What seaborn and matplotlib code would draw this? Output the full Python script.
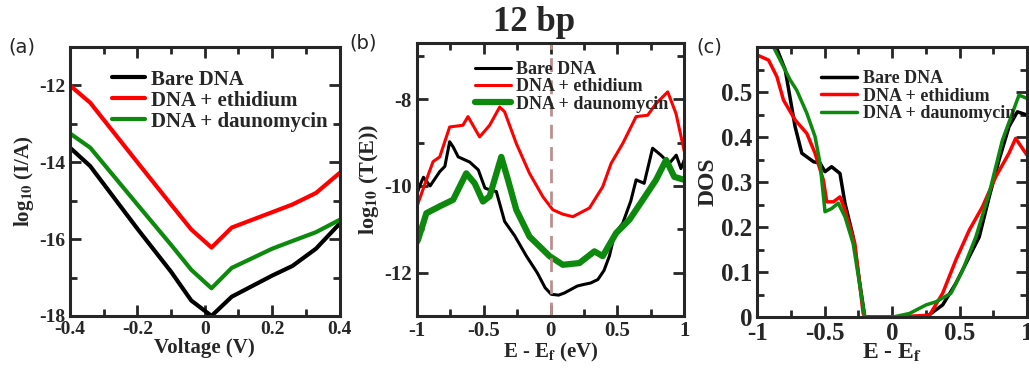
import numpy as np
import pandas as pd
import matplotlib
matplotlib.use("Agg")
import matplotlib.pyplot as plt
from matplotlib.ticker import MultipleLocator
import seaborn as sns

sns.set_style("ticks")
plt.rcParams['font.family'] = ['Liberation Serif', 'DejaVu Serif']
plt.rcParams['font.weight'] = 'bold'
plt.rcParams['mathtext.fontset'] = 'stix'
plt.rcParams['mathtext.default'] = 'bf'

names = ["Bare DNA", "DNA + ethidium", "DNA + daunomycin"]
colors = ["black", "#ff0000", "#0d8a0d"]

# (a) I-V curves
volt = [-0.4, -0.34, -0.2, -0.1, -0.04, 0.02, 0.08, 0.2, 0.26, 0.33, 0.4]
iv_bare = [-13.62, -14.1, -15.73, -16.85, -17.6, -18.0, -17.5, -16.95, -16.7, -16.25, -15.6]
iv_eth = [-12.0, -12.45, -14.0, -15.1, -15.75, -16.22, -15.7, -15.3, -15.1, -14.8, -14.28]
iv_dau = [-13.25, -13.62, -15.1, -16.15, -16.8, -17.28, -16.75, -16.25, -16.05, -15.82, -15.5]

# (b) transmission
e_bare = [-1.0, -0.978, -0.95, -0.9, -0.828, -0.79, -0.754, -0.728, -0.69, -0.604, -0.54,
          -0.49, -0.455, -0.405, -0.343, -0.268, -0.18, -0.1, -0.04, 0.005, 0.06, 0.104,
          0.2, 0.24, 0.3, 0.354, 0.4, 0.44, 0.48, 0.54, 0.6, 0.64, 0.70, 0.763, 0.825,
          0.888, 0.94, 0.975, 1.0]
t_bare = [-10.2, -10.0, -9.8, -10.0, -9.67, -9.55, -8.98, -9.1, -9.33, -9.45, -9.63,
          -10.05, -10.09, -10.13, -10.82, -11.15, -11.62, -12.0, -12.35, -12.5, -12.52, -12.47,
          -12.31, -12.28, -12.24, -12.16, -11.95, -11.62, -11.1, -10.86, -10.35, -9.86, -9.94,
          -9.13, -9.29, -9.48, -9.29, -9.6, -9.4]
e_eth = [-1.0, -0.99, -0.928, -0.878, -0.828, -0.754, -0.655, -0.617, -0.53, -0.455, -0.38,
         -0.343, -0.256, -0.157, -0.057, 0.017, 0.09, 0.167, 0.291, 0.39, 0.453, 0.54, 0.64,
         0.726, 0.789, 0.876, 0.938, 1.0]
t_eth = [-10.5, -10.4, -9.86, -9.44, -9.33, -8.64, -8.6, -8.4, -8.87, -8.6, -8.18,
         -8.29, -9.02, -9.71, -10.25, -10.55, -10.65, -10.71, -10.51, -10.02, -9.48, -9.02,
         -8.4, -8.37, -8.1, -7.83, -8.33, -9.2]
e_dau = [-1.0, -0.99, -0.928, -0.828, -0.728, -0.63, -0.567, -0.505, -0.455, -0.368, -0.318,
         -0.256, -0.157, -0.007, 0.092, 0.216, 0.328, 0.39, 0.49, 0.59, 0.69, 0.789,
         0.864, 0.925, 1.0]
t_dau = [-11.3, -11.24, -10.63, -10.47, -10.32, -9.71, -9.94, -10.36, -10.24, -9.33, -9.86,
         -10.55, -11.17, -11.62, -11.82, -11.78, -11.51, -11.62, -11.09, -10.78, -10.32, -9.86,
         -9.4, -9.79, -9.86]

# (c) DOS
d_e_bare = [-0.86, -0.793, -0.72, -0.67, -0.583, -0.535, -0.498, -0.449, -0.387, -0.35,
            -0.289, -0.24, -0.203, 0.0, 0.252, 0.375, 0.473, 0.572, 0.646, 0.72, 0.793,
            0.867, 0.929, 1.0]
dos_bare = [0.6, 0.549, 0.423, 0.364, 0.345, 0.342, 0.323, 0.334, 0.319, 0.253,
            0.178, 0.075, 0.0, 0.0, 0.0, 0.027, 0.075, 0.134, 0.178, 0.267, 0.349,
            0.423, 0.456, 0.449]
d_e_eth = [-1.0, -0.917, -0.855, -0.806, -0.72, -0.633, -0.572, -0.51, -0.485, -0.436,
           -0.387, -0.35, -0.277, -0.215, -0.2, 0.0, 0.277, 0.375, 0.473, 0.572, 0.67,
           0.769, 0.867, 0.916, 1.0]
dos_eth = [0.582, 0.571, 0.534, 0.482, 0.438, 0.408, 0.364, 0.304, 0.256, 0.256,
           0.267, 0.238, 0.164, 0.008, 0.0, 0.0, 0.004, 0.053, 0.127, 0.193, 0.245,
           0.312, 0.364, 0.397, 0.36]
d_e_dau = [-0.88, -0.757, -0.708, -0.633, -0.572, -0.535, -0.498, -0.449, -0.4, -0.35,
           -0.289, -0.203, 0.006, 0.129, 0.252, 0.326, 0.437, 0.523, 0.621, 0.72, 0.818,
           0.892, 0.941, 1.0]
dos_dau = [0.6, 0.527, 0.504, 0.453, 0.401, 0.342, 0.234, 0.241, 0.253, 0.223,
           0.163, 0.0, 0.0, 0.008, 0.027, 0.034, 0.053, 0.104, 0.178, 0.275, 0.393,
           0.453, 0.493, 0.486]

fig = plt.figure(figsize=(10.29, 3.73), dpi=100)
ax_a = fig.add_axes([0.068, 0.153, 0.262, 0.721])
ax_b = fig.add_axes([0.405, 0.153, 0.260, 0.732])
ax_c = fig.add_axes([0.736, 0.150, 0.262, 0.724])


def draw(ax, xs, ys, widths):
    for x, y, name, c, w in zip(xs, ys, names, colors, widths):
        df = pd.DataFrame({"x": x, "y": y})
        sns.lineplot(data=df, x="x", y="y", ax=ax, color=c, lw=w, label=name,
                     sort=False, estimator=None)


def style(ax, tick_size):
    for s in ax.spines.values():
        s.set_linewidth(2.2)
    ax.tick_params(which='both', direction='in', top=True, right=True, width=2,
                   labelsize=tick_size)
    ax.tick_params(which='major', length=8)
    ax.tick_params(which='minor', length=5)
    for t in ax.get_xticklabels() + ax.get_yticklabels():
        t.set_fontweight('bold')


draw(ax_a, [volt] * 3, [iv_bare, iv_eth, iv_dau], [3, 3, 3])
ax_a.set_xticks([-0.4, -0.2, 0, 0.2, 0.4])
ax_a.set_xticklabels(['-0.4', '-0.2', '0', '0.2', '0.4'])
ax_a.xaxis.set_minor_locator(MultipleLocator(0.1))
ax_a.set_yticks([-18, -16, -14, -12])
ax_a.set_yticklabels(['-18', '-16', '-14', '-12'])
ax_a.yaxis.set_minor_locator(MultipleLocator(1))
ax_a.set_xlim(-0.4, 0.4)
ax_a.set_ylim(-18, -11)
ax_a.set_xlabel("Voltage (V)", fontsize=15, fontweight='bold', labelpad=0)
ax_a.set_ylabel(r"log$_{10}$ (I/A)", fontsize=15, fontweight='bold', labelpad=2)
style(ax_a, 14)
ax_a.legend(loc='upper left', bbox_to_anchor=(0.1, 0.97), frameon=False, fontsize=15,
            handlelength=1.6, handletextpad=0.3, labelspacing=0.05, borderpad=0.2)

draw(ax_b, [e_bare, e_eth, e_dau], [t_bare, t_eth, t_dau], [2.2, 2.2, 4.5])
ax_b.axvline(0, color='#bc8f8f', ls='--', lw=2, dashes=(5, 3))
ax_b.set_xticks([-1, -0.5, 0, 0.5, 1])
ax_b.set_xticklabels(['-1', '-0.5', '0', '0.5', '1'])
ax_b.xaxis.set_minor_locator(MultipleLocator(0.25))
ax_b.set_yticks([-12, -10, -8])
ax_b.set_yticklabels(['-12', '-10', '-8'])
ax_b.yaxis.set_minor_locator(MultipleLocator(1))
ax_b.set_xlim(-1, 1)
ax_b.set_ylim(-13, -6.7)
ax_b.set_xlabel(r"E - E$_{f}$ (eV)", fontsize=15, fontweight='bold', labelpad=0)
ax_b.set_ylabel(r"log$_{10}$ (T(E))", fontsize=16, fontweight='bold', labelpad=2)
style(ax_b, 15)
ax_b.legend(loc='upper left', bbox_to_anchor=(0.17, 0.98), frameon=False, fontsize=13,
            handlelength=2.0, handletextpad=0.3, labelspacing=0.02, borderpad=0.2)

draw(ax_c, [d_e_bare, d_e_eth, d_e_dau], [dos_bare, dos_eth, dos_dau], [2.5, 2.5, 2.5])
ax_c.set_xticks([-1, -0.5, 0, 0.5, 1])
ax_c.set_xticklabels(['-1', '-0.5', '0', '0.5', '1'])
ax_c.xaxis.set_minor_locator(MultipleLocator(0.25))
ax_c.set_yticks([0, 0.1, 0.2, 0.3, 0.4, 0.5])
ax_c.set_yticklabels(['0', '0.1', '0.2', '0.3', '0.4', '0.5'])
ax_c.yaxis.set_minor_locator(MultipleLocator(0.05))
ax_c.set_xlim(-1, 1)
ax_c.set_ylim(0, 0.6)
ax_c.set_xlabel(r"E - E$_{f}$", fontsize=17, fontweight='bold', labelpad=-2)
ax_c.set_ylabel("DOS", fontsize=17, fontweight='bold', labelpad=2)
style(ax_c, 18)
ax_c.legend(loc='upper left', bbox_to_anchor=(0.19, 0.96), frameon=False, fontsize=13,
            handlelength=2.0, handletextpad=0.3, labelspacing=0.02, borderpad=0.2)

for x, y, s in [(0.008, 0.875, "(a)"), (0.34, 0.885, "(b)"), (0.677, 0.875, "(c)")]:
    fig.text(x, y, s, fontsize=14, fontweight='normal', family='DejaVu Sans', va='center')
fig.text(0.519, 0.94, "12 bp", fontsize=25, fontweight='bold', ha='center', va='center')

fig.savefig("out.png", dpi=100)
